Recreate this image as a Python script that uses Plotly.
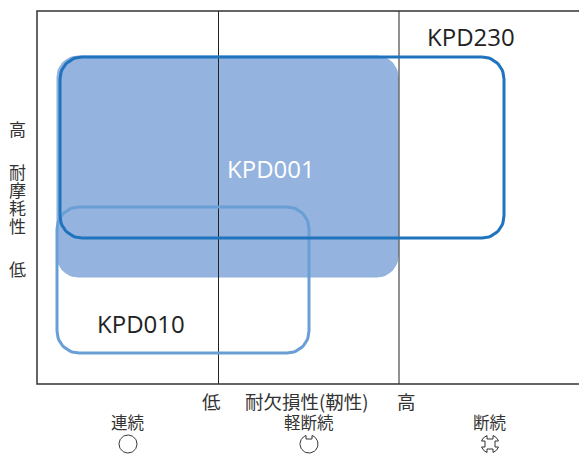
import numpy as np
import plotly.graph_objects as go

# Region bounds (x0, x1, top, bottom, corner radius)
fill_name = "KPD001"
fill_box = (57, 398, 56, 277, 21)
outline_names = ["KPD230", "KPD010"]
outline_boxes = [(60, 504, 57, 238, 22), (57, 309, 207, 353, 22)]
outline_colors = ["#1f74bd", "#6a9fd6"]
outline_widths = [3, 3]

frame_x = [579, 37, 37, 579]
frame_y = [11, 11, 384, 384]
divider_x = [218.5, 399]
divider_y = [11, 384]

region_labels = ["KPD230", "KPD001", "KPD010"]
region_label_x = [471, 271, 141]
region_label_y = [36, 168, 323]
region_label_colors = ["#222222", "#ffffff", "#222222"]

axis_text = ["低", "耐欠損性(靭性)", "高"]
axis_text_x = [211, 307, 406]
axis_text_y = 401
y_text = ["高", "耐", "摩", "耗", "性", "低"]
y_text_y = [128, 171, 189, 207, 225, 268]
y_text_x = 17

mode_names = ["連続", "軽断続", "断続"]
mode_x = [128, 309, 490]
mode_notches = [[], [90], [0, 90, 180, 270]]
mode_y = 444
mode_label_y = 422


def rounded(x0, x1, y0, y1, r):
    xs, ys = [], []
    corners = [(x1 - r, y0 + r, -90), (x1 - r, y1 - r, 0), (x0 + r, y1 - r, 90), (x0 + r, y0 + r, 180)]
    for cx, cy, a in corners:
        t = np.radians(np.linspace(a, a + 90, 16))
        xs.extend(cx + r * np.cos(t))
        ys.extend(cy + r * np.sin(t))
    return xs + xs[:1], ys + ys[:1]


def notched_ring(cx, cy, notches, rx=9, ry=9, half=3.0, depth=4):
    xs, ys = [], []
    half_deg = np.degrees(np.arcsin(half / rx))
    if not notches:
        t = np.radians(np.linspace(0, 360, 73))
        return list(cx + rx * np.cos(t)), list(cy - ry * np.sin(t))
    ordered = sorted(notches)
    for i, a in enumerate(ordered):
        ux, uy = np.cos(np.radians(a)), -np.sin(np.radians(a))
        px, py = -uy, ux
        p1 = (cx + rx * np.cos(np.radians(a - half_deg)), cy - ry * np.sin(np.radians(a - half_deg)))
        p4 = (cx + rx * np.cos(np.radians(a + half_deg)), cy - ry * np.sin(np.radians(a + half_deg)))
        inner = rx - depth
        p2 = (cx + ux * inner + px * half, cy + uy * inner + py * half)
        p3 = (cx + ux * inner - px * half, cy + uy * inner - py * half)
        d1 = (p2[0] - p1[0]) ** 2 + (p2[1] - p1[1]) ** 2
        d2 = (p3[0] - p1[0]) ** 2 + (p3[1] - p1[1]) ** 2
        if d2 < d1:
            p2, p3 = p3, p2
        xs += [p1[0], p2[0], p3[0], p4[0]]
        ys += [p1[1], p2[1], p3[1], p4[1]]
        nxt = ordered[(i + 1) % len(ordered)] + (360 if i == len(ordered) - 1 else 0)
        t = np.radians(np.linspace(a + half_deg, nxt - half_deg, 40))
        xs += list(cx + rx * np.cos(t))
        ys += list(cy - ry * np.sin(t))
    return xs, ys


fig = go.Figure()

fx, fy = rounded(*fill_box)
fig.add_trace(go.Scatter(x=fx, y=fy, mode="lines", fill="toself", fillcolor="#94b3de",
                         line=dict(color="#8db0dd", width=1), name=fill_name, hoverinfo="skip"))

for x in divider_x:
    fig.add_trace(go.Scatter(x=[x, x], y=divider_y, mode="lines",
                             line=dict(color="#222222", width=1), hoverinfo="skip"))

for i in [1, 0]:
    ox, oy = rounded(*outline_boxes[i])
    fig.add_trace(go.Scatter(x=ox, y=oy, mode="lines", name=outline_names[i],
                             line=dict(color=outline_colors[i], width=outline_widths[i]), hoverinfo="skip"))

fig.add_trace(go.Scatter(x=frame_x, y=frame_y, mode="lines",
                         line=dict(color="#333333", width=1.5), hoverinfo="skip"))

for mx, notches in zip(mode_x, mode_notches):
    gx, gy = notched_ring(mx, mode_y, notches)
    fig.add_trace(go.Scatter(x=gx, y=gy, mode="lines",
                             line=dict(color="#333333", width=1), hoverinfo="skip"))

latin = "Open Sans, Noto Sans, sans-serif"
cjk = "Noto Sans CJK JP, sans-serif"
ann = []
for t, x, y, c in zip(region_labels, region_label_x, region_label_y, region_label_colors):
    ann.append(dict(x=x, y=y, text=t, font=dict(family=latin, size=24, color=c)))
for t, x in zip(axis_text, axis_text_x):
    ann.append(dict(x=x, y=axis_text_y, text=t, font=dict(family=cjk, size=18.5, color="#333333")))
for t, y in zip(y_text, y_text_y):
    ann.append(dict(x=y_text_x, y=y, text=t, font=dict(family=cjk, size=17, color="#333333")))
for t, x in zip(mode_names, mode_x):
    ann.append(dict(x=x, y=mode_label_y, text=t, font=dict(family=cjk, size=16.5, color="#333333")))
for a in ann:
    a.update(xref="x", yref="y", showarrow=False, xanchor="center", yanchor="middle")

fig.update_layout(
    width=579, height=454, margin=dict(l=0, r=0, t=0, b=0),
    paper_bgcolor="white", plot_bgcolor="white", showlegend=False, annotations=ann,
    xaxis=dict(range=[0, 579], visible=False, fixedrange=True),
    yaxis=dict(range=[454, 0], visible=False, fixedrange=True),
)
fig.write_html("out.html", config=dict(displayModeBar=False),
               post_script="document.body.style.margin='0';document.documentElement.style.overflow='hidden';")
